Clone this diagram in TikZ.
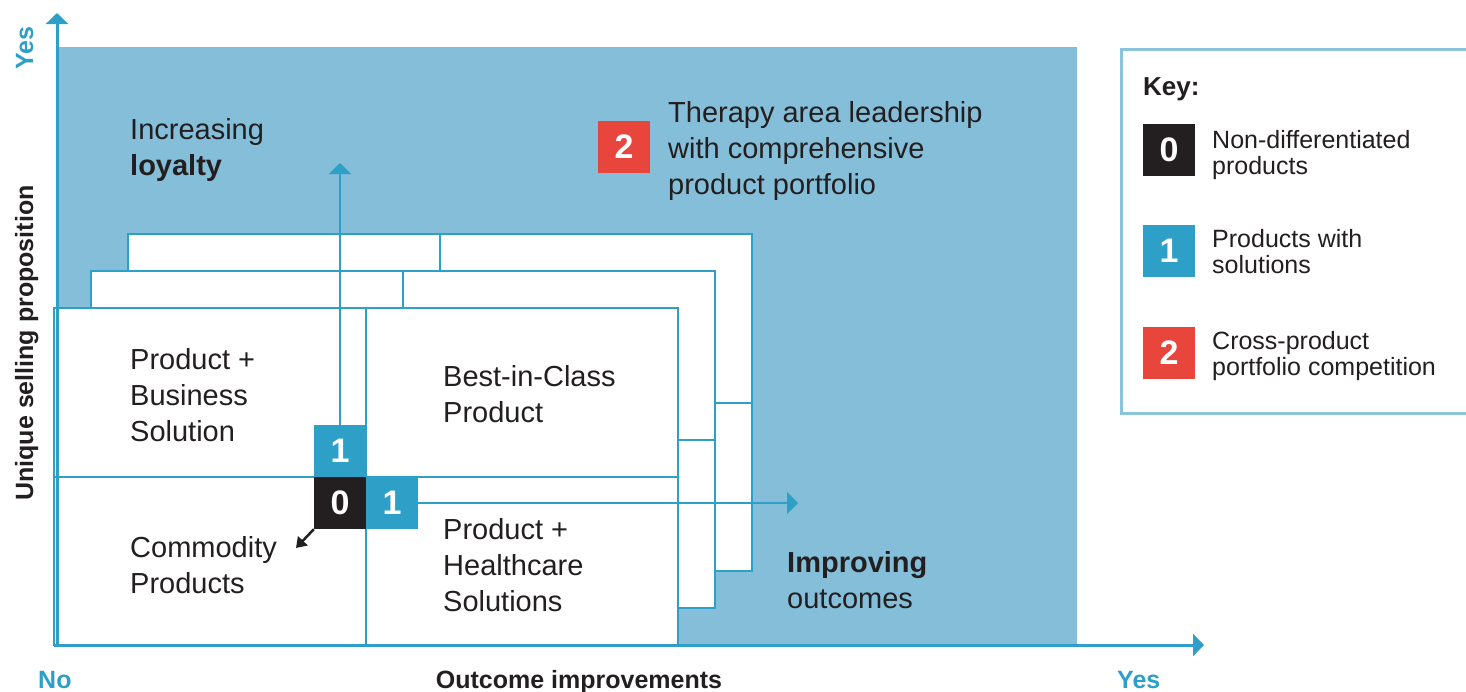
\documentclass[tikz,border=0pt]{standalone}
\usepackage{fontspec}
\setmainfont{Liberation Sans}
\usetikzlibrary{arrows.meta, positioning}
\definecolor{axisblue}{RGB}{46, 160, 199}
\definecolor{fieldblue}{RGB}{133, 190, 216}
\definecolor{framblue}{RGB}{140, 195, 220}
\definecolor{keyred}{RGB}{232, 69, 60}
\definecolor{inkblack}{RGB}{35, 31, 32}

\begin{document}
\begin{tikzpicture}[x=1pt, y=-1pt, >={Triangle[length=11pt, width=22pt]},
    axis/.style={axisblue, line width=3pt},
    boxline/.style={axisblue, line width=2.5pt},
    flowline/.style={axisblue, line width=2pt},
    numbox/.style={minimum size=52pt, inner sep=0pt, text=white, font=\fontsize{34}{34}\selectfont\bfseries},
    areatext/.style={anchor=base west, align=left, inner sep=0pt, text=inkblack, font=\fontsize{29}{36}\selectfont},
    keytext/.style={anchor=base west, align=left, inner sep=0pt, text=inkblack, font=\fontsize{25}{26}\selectfont},
    axistext/.style={inner sep=0pt, font=\fontsize{25}{25}\selectfont\bfseries}]
    \useasboundingbox (0,0) rectangle (1466,691);

    % Field behind the quadrants
    \fill[fieldblue] (57,47) rectangle (1077,645);

    % Stacked quadrant grids, back to front
    \foreach \d in {74,37,0} {
        \draw[boxline, fill=white] (54+\d,308-\d) rectangle ++(624,337);
        \draw[boxline] (366+\d,308-\d) -- ++(0,337);
        \draw[boxline] (54+\d,477-\d) -- ++(624,0);
    }

    % Axes
    \coordinate (origin) at (57,645);
    \coordinate (ytip) at (57,13);
    \coordinate (xtip) at (1204,645);
    \draw[axis, ->] (origin) -- (ytip);
    \draw[axis, ->] (54,645) -- (xtip);

    % Quadrant texts (placed by the baseline of their last line)
    \node[areatext] (loyalty) at (130,175) {Increasing\\\textbf{loyalty}};
    \node[areatext] (prodbiz) at (130,441) {Product +\\Business\\Solution};
    \node[areatext] (bestclass) at (443,422) {Best-in-Class\\Product};
    \node[areatext] (commodity) at (130,593) {Commodity\\Products};
    \node[areatext] (prodhealth) at (443,611) {Product +\\Healthcare\\Solutions};
    \node[areatext] (improving) at (787,608) {\textbf{Improving}\\outcomes};
    \node[areatext] (therapy) at (668,194) {Therapy area leadership\\with comprehensive\\product portfolio};
    \node[numbox, fill=keyred] (lead2) at (624,147) {2};

    % Starting squares and their arrows
    \node[numbox, fill=axisblue] (sol1v) at (340,451) {1};
    \node[numbox, fill=inkblack] (base0) at (340,503) {0};
    \node[numbox, fill=axisblue] (sol1h) at (392,503) {1};
    \coordinate (loyaltytip) at (340,163);
    \coordinate (outcometip) at (798,503);
    \coordinate (commoditytip) at (296,548);
    \draw[flowline, ->] (sol1v.north) -- (loyaltytip);
    \draw[flowline, ->] (sol1h.east) -- (outcometip);
    \draw[inkblack, line width=2.5pt, -{Triangle[length=10pt, width=13pt]}] (base0.south west) -- (commoditytip);

    % Axis labels
    \node[axistext, text=axisblue, rotate=90, anchor=base] (yyes) at (33,48) {Yes};
    \node[axistext, text=inkblack, rotate=90, anchor=base] (ylabel) at (33,343) {Unique selling proposition};
    \node[axistext, text=axisblue, anchor=base west] (xno) at (38,688) {No};
    \node[axistext, text=inkblack, anchor=base] (xlabel) at (579,688) {Outcome improvements};
    \node[axistext, text=axisblue, anchor=base west] (xyes) at (1117,688) {Yes};

    % Key
    \draw[framblue, line width=3pt, fill=white] (1121,49) rectangle (1475,413);
    \node[keytext, font=\fontsize{26}{26}\selectfont\bfseries] (keyhead) at (1143,95) {Key:};
    \node[numbox, fill=inkblack] (key0) at (1169,150) {0};
    \node[numbox, fill=axisblue] (key1) at (1169,251) {1};
    \node[numbox, fill=keyred] (key2) at (1169,353) {2};
    \node[keytext] (key0txt) at (1212,174) {Non-differentiated\\products};
    \node[keytext] (key1txt) at (1212,273) {Products with\\solutions};
    \node[keytext] (key2txt) at (1212,375) {Cross-product\\portfolio competition};
\end{tikzpicture}
\end{document}
